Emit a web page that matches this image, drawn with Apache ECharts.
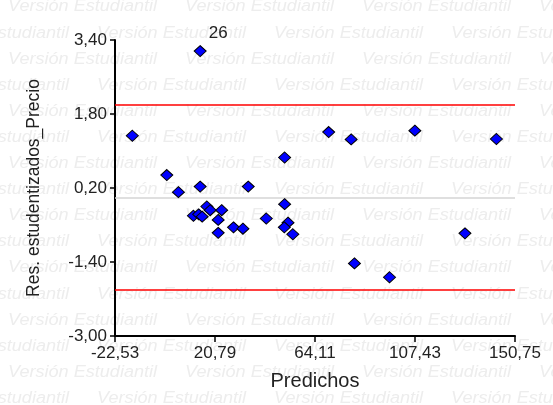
<!DOCTYPE html>
<html>
<head>
<meta charset="utf-8">
<script src="https://cdn.jsdelivr.net/npm/echarts@6/dist/echarts.min.js"></script>
<style>
  html, body { margin: 0; padding: 0; background: #ffffff; }
  #chart { width: 553px; height: 405px; }
</style>
</head>
<body>
<div id="chart"></div>
<script>
// Residuos estudentizados frente a valores predichos
const xTicks = [-22.53, 20.79, 64.11, 107.43, 150.75];
const yTicks = [-3.00, -1.40, 0.20, 1.80, 3.40];

const predichos = [-15.02, -0.09, 4.94, 14.36, 14.36, 11.45, 13.71, 15.23, 17.27, 18.70,
  23.69, 22.17, 22.17, 28.81, 32.89, 35.19, 43.00, 50.95, 50.95, 52.42,
  50.82, 54.51, 70.04, 79.77, 81.20, 96.39, 107.37, 129.07, 142.69];
const residuos = [1.33, 0.48, 0.11, 3.16, 0.23, -0.40, -0.37, -0.42, -0.20, -0.28,
  -0.28, -0.49, -0.77, -0.65, -0.68, 0.23, -0.46, 0.86, -0.15, -0.55,
  -0.65, -0.80, 1.41, 1.25, -1.43, -1.73, 1.44, -0.78, 1.26];
// observación identificada en el gráfico (índice en los arreglos, rótulo)
const destacados = [[3, '26']];

const limites = [2, -2];
const referencia = [0];

const marca = 'Versión Estudiantil';

const coma = v => v.toFixed(2).replace('.', ',');
const fuente = '"Liberation Sans", Arial, sans-serif';

const puntos = predichos.map((x, i) => {
  const item = { value: [x, residuos[i]] };
  const d = destacados.find(p => p[0] === i);
  if (d) {
    item.label = {
      show: true, formatter: d[1], position: 'top', offset: [18, 2],
      color: '#222', fontSize: 17, fontFamily: fuente
    };
  }
  return item;
});

// texto de fondo repetido
const fondo = [];
for (let k = 0; k < 16; k++) {
  const y = 7 + 26.1 * k;
  const x0 = (k % 2 === 0) ? 8 : -80;
  for (let j = 0; j < 4; j++) {
    fondo.push({
      type: 'text', x: x0 + 177 * j, y: y, scaleX: 1.13, z: -10, silent: true,
      style: { text: marca, fontSize: 16, fontStyle: 'italic', fontFamily: fuente,
               fill: '#ededed', verticalAlign: 'middle', align: 'left' }
    });
  }
}

const chart = echarts.init(document.getElementById('chart'), null, { renderer: 'canvas' });
chart.setOption({
  animation: false,
  backgroundColor: '#ffffff',
  graphic: fondo,
  grid: { left: 115, right: 38, top: 40, bottom: 69, containLabel: false },
  xAxis: {
    type: 'value', min: xTicks[0], max: xTicks[xTicks.length - 1],
    name: 'Predichos', nameLocation: 'middle', nameGap: 35,
    nameTextStyle: { color: '#222', fontSize: 20, fontFamily: fuente },
    axisLine: { onZero: false, lineStyle: { color: '#000', width: 2 } },
    axisTick: { show: true, length: 6, customValues: xTicks, lineStyle: { color: '#000', width: 1.5 } },
    axisLabel: { customValues: xTicks, formatter: v => coma(v), color: '#222', fontSize: 17,
                 fontFamily: fuente, margin: 9, showMinLabel: true, showMaxLabel: true },
    splitLine: { show: false }
  },
  yAxis: {
    type: 'value', min: yTicks[0], max: yTicks[yTicks.length - 1],
    name: 'Res. estudentizados_Precio', nameLocation: 'middle', nameGap: 72, nameRotate: 90,
    nameTextStyle: { color: '#222', fontSize: 17.5, fontFamily: fuente },
    axisLine: { onZero: false, lineStyle: { color: '#000', width: 2 } },
    axisTick: { show: true, length: 5, customValues: yTicks, lineStyle: { color: '#000', width: 1.5 } },
    axisLabel: { customValues: yTicks, formatter: v => coma(v), color: '#222', fontSize: 17,
                 fontFamily: fuente, margin: 8, showMinLabel: true, showMaxLabel: true },
    splitLine: { show: false }
  },
  series: [
    {
      type: 'scatter', data: puntos, symbol: 'diamond', symbolSize: [12, 11], z: 5,
      itemStyle: { color: '#0000ff', borderColor: '#000', borderWidth: 1, opacity: 1 },
      markLine: {
        silent: true, symbol: 'none', label: { show: false },
        data: [
          ...limites.map(v => ({ yAxis: v, lineStyle: { color: '#ff0000', width: 1.5, type: 'solid' } })),
          ...referencia.map(v => ({ yAxis: v, lineStyle: { color: '#d4d4d4', width: 1.5, type: 'solid' } }))
        ]
      }
    }
  ]
});
</script>
</body>
</html>
